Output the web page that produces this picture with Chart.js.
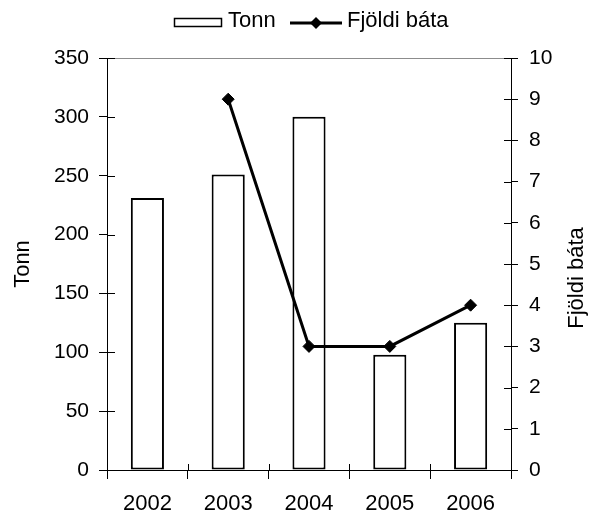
<!DOCTYPE html>
<html>
<head>
<meta charset="utf-8">
<script src="https://cdn.jsdelivr.net/npm/chart.js@4"></script>
<style>
  html, body { margin: 0; padding: 0; background: #fff; }
  #wrap { width: 594px; height: 515px; }
</style>
</head>
<body>
<div id="wrap"><canvas id="chart" width="594" height="515"></canvas></div>
<script>
// data
const years = ['2002', '2003', '2004', '2005', '2006'];
const tonn = [231, 251, 300, 98, 125];
const fjoldiBata = [null, 9, 3, 3, 4];
const leftTicks = [0, 50, 100, 150, 200, 250, 300, 350];
const rightTicks = [0, 1, 2, 3, 4, 5, 6, 7, 8, 9, 10];

const FONT = 'Liberation Sans, Arial, sans-serif';

// ticks in the reference cross the axis lines, Chart.js only draws the outer half
const crossTicks = {
  id: 'crossTicks',
  afterDraw(chart) {
    const ctx = chart.ctx;
    const { x, y, y1 } = chart.scales;
    ctx.save();
    ctx.strokeStyle = '#000';
    ctx.lineWidth = 1;
    ctx.beginPath();
    y.ticks.forEach((t, i) => {
      const py = Math.round(y.getPixelForTick(i)) + 0.5;
      ctx.moveTo(y.right, py); ctx.lineTo(y.right + 8, py);
    });
    y1.ticks.forEach((t, i) => {
      const py = Math.round(y1.getPixelForTick(i)) + 0.5;
      ctx.moveTo(y1.left - 7, py); ctx.lineTo(y1.left, py);
    });
    for (let i = 0; i <= years.length; i++) {
      const px = Math.round(x.getPixelForValue(i - 0.5)) + 0.5;
      ctx.moveTo(px, x.top - 6); ctx.lineTo(px, x.top);
    }
    ctx.stroke();

    // right axis title, reading bottom to top like the left one
    ctx.fillStyle = '#000';
    ctx.font = '22px ' + FONT;
    ctx.textAlign = 'center';
    ctx.textBaseline = 'middle';
    ctx.translate(577, 278);
    ctx.rotate(-Math.PI / 2);
    ctx.fillText('Fjöldi báta', 0, 0);
    ctx.restore();
  }
};

// legend drawn by hand to match the old spreadsheet look
const legendPlugin = {
  id: 'hand-legend',
  afterDraw(chart) {
    const ctx = chart.ctx;
    ctx.save();
    ctx.fillStyle = '#fff';
    ctx.strokeStyle = '#000';
    ctx.lineWidth = 1.5;
    ctx.fillRect(174, 18, 48, 9);
    ctx.strokeRect(174.5, 18.5, 47, 8);

    ctx.fillStyle = '#000';
    ctx.font = '22px ' + FONT;
    ctx.textBaseline = 'alphabetic';
    ctx.textAlign = 'left';
    ctx.fillText(chart.data.datasets[1].label, 228, 27);

    ctx.lineWidth = 3;
    ctx.beginPath();
    ctx.moveTo(290, 23); ctx.lineTo(342, 23);
    ctx.stroke();
    ctx.beginPath();
    ctx.moveTo(316, 17); ctx.lineTo(322, 23); ctx.lineTo(316, 29); ctx.lineTo(310, 23);
    ctx.closePath();
    ctx.fill();
    ctx.fillText(chart.data.datasets[0].label, 347, 27);
    ctx.restore();
  }
};

const ctx = document.getElementById('chart').getContext('2d');
new Chart(ctx, {
  data: {
    labels: years,
    datasets: [
      {
        type: 'line',
        label: 'Fjöldi báta',
        data: fjoldiBata,
        yAxisID: 'y1',
        borderColor: '#000',
        backgroundColor: '#000',
        borderWidth: 3,
        pointStyle: 'rectRot',
        pointRadius: 6,
        pointBorderWidth: 1,
        tension: 0,
        spanGaps: false
      },
      {
        type: 'bar',
        label: 'Tonn',
        data: tonn,
        yAxisID: 'y',
        backgroundColor: '#fff',
        borderColor: '#000',
        borderWidth: 2,
        borderSkipped: false,
        categoryPercentage: 1,
        barPercentage: 0.41
      }
    ]
  },
  options: {
    responsive: false,
    animation: false,
    layout: { padding: { top: 58, left: 0, right: 0, bottom: 0 } },
    plugins: {
      legend: { display: false },
      tooltip: { enabled: false }
    },
    scales: {
      x: {
        type: 'category',
        offset: true,
        border: { color: '#000', width: 1 },
        grid: { display: true, offset: true, drawOnChartArea: false, tickLength: 9, tickColor: '#000' },
        ticks: { color: '#000', font: { family: FONT, size: 22 }, padding: 12, maxRotation: 0 },
        afterFit(scale) { scale.height = 45; }
      },
      y: {
        position: 'left',
        min: 0,
        max: 350,
        afterBuildTicks(scale) { scale.ticks = leftTicks.map(v => ({ value: v })); },
        border: { color: '#000', width: 1 },
        grid: {
          drawOnChartArea: true,
          tickLength: 8,
          tickColor: '#000',
          color: c => (c.tick && c.tick.value === 350 ? '#8c8c8c' : 'rgba(0,0,0,0)')
        },
        ticks: { color: '#000', font: { family: FONT, size: 21 }, padding: 10 },
        title: { display: true, text: 'Tonn', color: '#000', font: { family: FONT, size: 22 }, padding: { top: 10, bottom: 0 } },
        afterFit(scale) { scale.width = 107; }
      },
      y1: {
        position: 'right',
        min: 0,
        max: 10,
        afterBuildTicks(scale) { scale.ticks = rightTicks.map(v => ({ value: v })); },
        border: { color: '#000', width: 1 },
        grid: { drawOnChartArea: false, tickLength: 7, tickColor: '#000' },
        ticks: { color: '#000', font: { family: FONT, size: 21 }, padding: 11 },
        afterFit(scale) { scale.width = 83; }
      }
    }
  },
  plugins: [crossTicks, legendPlugin]
});
</script>
</body>
</html>
